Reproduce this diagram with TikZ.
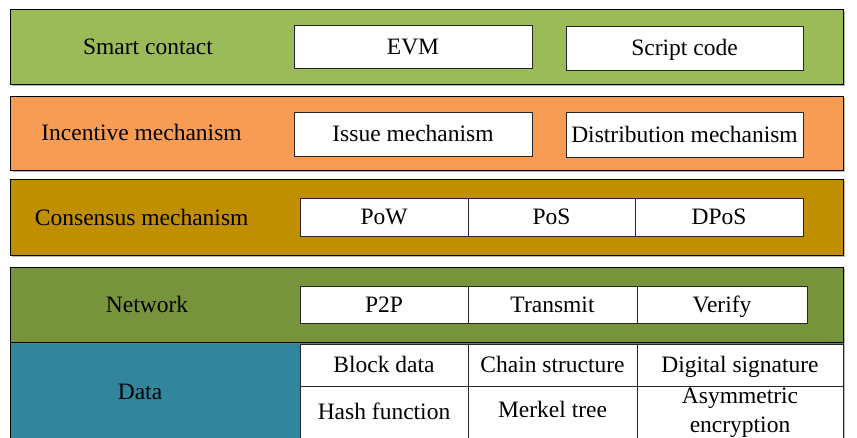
\documentclass[tikz,border=0pt]{standalone}
\usepackage{fontspec}
\setmainfont{Liberation Serif}
\usetikzlibrary{shadows}
\definecolor{smartgreen}{HTML}{9BBB59}
\definecolor{incorange}{HTML}{F69C55}
\definecolor{consgold}{HTML}{BF8F00}
\definecolor{netgreen}{HTML}{77933C}
\definecolor{datateal}{HTML}{31859C}
\begin{document}
\begin{tikzpicture}[x=1pt,y=-1pt,
  font=\fontsize{23.5}{29}\selectfont,
  band/.style={draw=black, line width=1.1pt, anchor=north west, inner sep=0,
    minimum width=833,
    drop shadow={shadow xshift=1pt, shadow yshift=-1.6pt, opacity=0.55, fill=gray}},
  cell/.style={draw=black!85, fill=white, line width=0.8pt, inner sep=0, align=center,
    text height=20.4pt, text depth=5pt},
  lbl/.style={inner sep=0, text height=20.4pt, text depth=5pt}]
\useasboundingbox (0,0) rectangle (857,437);
\clip (0,0) rectangle (857,437);

% bands
\node[band, fill=datateal, minimum height=120] (bdata) at (10,342) {};
\node[band, fill=smartgreen, minimum height=75] (bsmart) at (10,9) {};
\node[band, fill=incorange, minimum height=74] (binc) at (10,96) {};
\node[band, fill=consgold, minimum height=76] (bcons) at (10,179) {};
\node[band, fill=netgreen, minimum height=75] (bnet) at (10,267) {};

% labels
\node[lbl] (lsmart) at (148,46.5) {Smart contact};
\node[lbl] (linc) at (141.5,133) {Incentive mechanism};
\node[lbl] (lcons) at (141.7,217.5) {Consensus mechanism};
\node[lbl] (lnet) at (147,304.5) {Network};
\node[lbl] (ldata) at (140,392) {Data};

% smart contract row
\node[cell, minimum width=238, minimum height=43] (evm) at (413,46.5) {EVM};
\node[cell, minimum width=237, minimum height=44] (script) at (684.5,48) {Script code};

% incentive row
\node[cell, minimum width=238, minimum height=44] (issue) at (413,134) {Issue mechanism};
\node[cell, minimum width=237, minimum height=45] (distr) at (684.5,134.5) {Distribution mechanism};

% consensus row
\node[cell, minimum width=168, minimum height=38] (pow) at (384,217) {PoW};
\node[cell, minimum width=167, minimum height=38] (pos) at (551.5,217) {PoS};
\node[cell, minimum width=168, minimum height=38] (dpos) at (719,217) {DPoS};

% network row
\node[cell, minimum width=168, minimum height=37] (p2p) at (384,304.5) {P2P};
\node[cell, minimum width=169, minimum height=37] (transmit) at (552.5,304.5) {Transmit};
\node[cell, minimum width=170, minimum height=37] (verify) at (722,304.5) {Verify};

% data table
\node[cell, minimum width=168, minimum height=42] (block) at (384,365) {Block data};
\node[cell, minimum width=169, minimum height=42] (chain) at (552.5,365) {Chain structure};
\node[cell, minimum width=206, minimum height=42] (digsig) at (740,365) {Digital signature};
\node[cell, minimum width=168, minimum height=56] (hash) at (384,414) {};
\node[cell, minimum width=169, minimum height=56] (merkel) at (552.5,414) {};
\node[cell, minimum width=206, minimum height=56] (asym) at (740,414) {};
\node[lbl] (thash) at (384,412) {Hash function};
\node[lbl] (tmerkel) at (552.5,410) {Merkel tree};
\node[inner sep=0, align=center] (tasym) at (740,413) {Asymmetric\\encryption};
\end{tikzpicture}
\end{document}
